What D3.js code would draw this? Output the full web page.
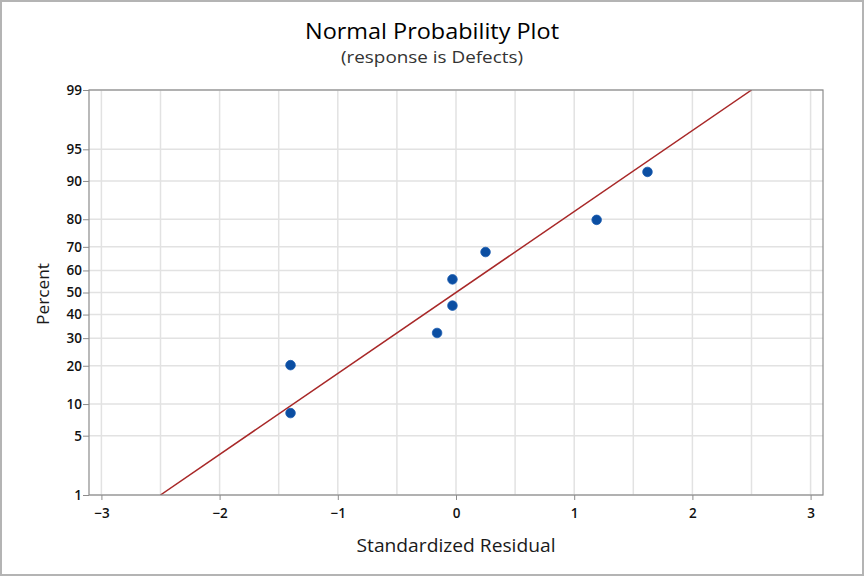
<!DOCTYPE html>
<html>
<head>
<meta charset="utf-8">
<script src="https://cdn.jsdelivr.net/npm/d3@7"></script>
<style>
    body { margin: 0; background: #fff; }
    svg { display: block; font-family: "Open Sans", "Noto Sans", sans-serif; }
</style>
</head>
<body>
<svg id="chart" width="864" height="576"></svg>
<script>
// residuals (sorted) and their plotting percents
const residuals = [-1.40, -1.40, -0.16, -0.03, -0.03, 0.25, 1.19, 1.62];
const percents = [8.3, 20.2, 32.1, 44.0, 56.0, 67.9, 79.8, 91.7];

// fitted normal line
const lineMean = 0;
const lineSigma = 1.075;

const percentTicks = [1, 5, 10, 20, 30, 40, 50, 60, 70, 80, 90, 95, 99];
const xTicks = [-3, -2, -1, 0, 1, 2, 3];
const xGrid = [-3, -2.5, -2, -1.5, -1, -0.5, 0, 0.5, 1, 1.5, 2, 2.5, 3];

// inverse normal cdf (Acklam)
function probit(p) {
    const a = [-3.969683028665376e+01, 2.209460984245205e+02, -2.759285104469687e+02,
        1.383577518672690e+02, -3.066479806614716e+01, 2.506628277459239e+00];
    const b = [-5.447609879822406e+01, 1.615858368580409e+02, -1.556989798598866e+02,
        6.680131188771972e+01, -1.328068155288572e+01];
    const c = [-7.784894002430293e-03, -3.223964580411365e-01, -2.400758277161838e+00,
        -2.549732539343734e+00, 4.374664141464968e+00, 2.938163982698783e+00];
    const d = [7.784695709041462e-03, 3.224671290700398e-01, 2.445134137142996e+00,
        3.754408661907416e+00];
    const pl = 0.02425;
    let q, r;
    if (p < pl) {
        q = Math.sqrt(-2 * Math.log(p));
        return (((((c[0] * q + c[1]) * q + c[2]) * q + c[3]) * q + c[4]) * q + c[5]) /
            ((((d[0] * q + d[1]) * q + d[2]) * q + d[3]) * q + 1);
    }
    if (p > 1 - pl) {
        q = Math.sqrt(-2 * Math.log(1 - p));
        return -(((((c[0] * q + c[1]) * q + c[2]) * q + c[3]) * q + c[4]) * q + c[5]) /
            ((((d[0] * q + d[1]) * q + d[2]) * q + d[3]) * q + 1);
    }
    q = p - 0.5;
    r = q * q;
    return (((((a[0] * r + a[1]) * r + a[2]) * r + a[3]) * r + a[4]) * r + a[5]) * q /
        (((((b[0] * r + b[1]) * r + b[2]) * r + b[3]) * r + b[4]) * r + 1);
}

const plotLeft = 89, plotRight = 823, plotTop = 90, plotBottom = 495;

const svg = d3.select('#chart');

// outer frame
svg.append('rect')
    .attr('x', 1).attr('y', 1)
    .attr('width', 862).attr('height', 574)
    .attr('fill', 'none')
    .attr('stroke', '#b4b4b4')
    .attr('stroke-width', 2);

const xScale = d3.scaleLinear()
    .domain([-3.105, 3.105])
    .range([plotLeft, plotRight]);

const zScale = d3.scaleLinear()
    .domain([probit(0.01), probit(0.99)])
    .range([plotBottom, plotTop]);
const yScale = p => zScale(probit(p / 100));

// grid
svg.append('g')
    .selectAll('line')
    .data(xGrid)
    .join('line')
    .attr('x1', d => xScale(d)).attr('x2', d => xScale(d))
    .attr('y1', plotTop).attr('y2', plotBottom)
    .attr('stroke', '#e2e2e2')
    .attr('stroke-width', 1.5);

svg.append('g')
    .selectAll('line')
    .data(percentTicks)
    .join('line')
    .attr('x1', plotLeft).attr('x2', plotRight)
    .attr('y1', d => yScale(d)).attr('y2', d => yScale(d))
    .attr('stroke', '#e2e2e2')
    .attr('stroke-width', 1.5);

// fitted line
const clipId = 'plot-clip';
svg.append('clipPath').attr('id', clipId)
    .append('rect')
    .attr('x', plotLeft).attr('y', plotTop)
    .attr('width', plotRight - plotLeft).attr('height', plotBottom - plotTop);

const lineGen = d3.line()
    .x(d => xScale(lineMean + lineSigma * probit(d / 100)))
    .y(d => yScale(d));

svg.append('path')
    .attr('clip-path', `url(#${clipId})`)
    .attr('d', lineGen([1, 99]))
    .attr('fill', 'none')
    .attr('stroke', '#a82828')
    .attr('stroke-width', 1.5);

// points
svg.append('g')
    .selectAll('circle')
    .data(residuals)
    .join('circle')
    .attr('cx', d => xScale(d))
    .attr('cy', (d, i) => yScale(percents[i]))
    .attr('r', 4.8)
    .attr('fill', '#0b4ea2')
    .attr('stroke', '#1a5cb0')
    .attr('stroke-width', 0.8);

// plot frame
svg.append('rect')
    .attr('x', plotLeft).attr('y', plotTop)
    .attr('width', plotRight - plotLeft).attr('height', plotBottom - plotTop)
    .attr('fill', 'none')
    .attr('stroke', '#8c8c8c')
    .attr('stroke-width', 1.2);

// axes
const xAxis = svg.append('g')
    .attr('transform', `translate(0,${plotBottom})`)
    .call(d3.axisBottom(xScale).tickValues(xTicks).tickSize(5).tickPadding(8)
        .tickFormat(d3.format('d')));
const yAxis = svg.append('g')
    .attr('transform', `translate(${plotLeft},0)`)
    .call(d3.axisLeft(zScale).tickValues(percentTicks.map(p => probit(p / 100)))
        .tickSize(6).tickPadding(1)
        .tickFormat((d, i) => percentTicks[i]));

[xAxis, yAxis].forEach(ax => {
    ax.select('.domain').remove();
    ax.selectAll('.tick line').attr('stroke', '#8c8c8c');
    ax.selectAll('.tick text')
        .attr('fill', '#111')
        .style('font-size', '13.5px')
        .style('font-weight', 600)
        .style('font-family', '"Open Sans", "Noto Sans", sans-serif');
});

// titles
svg.append('text')
    .attr('x', 432).attr('y', 39)
    .attr('text-anchor', 'middle')
    .attr('textLength', 254)
    .attr('lengthAdjust', 'spacingAndGlyphs')
    .style('font-size', '21px')
    .style('font-weight', 500)
    .attr('fill', '#000')
    .text('Normal Probability Plot');

svg.append('text')
    .attr('x', 432).attr('y', 63)
    .attr('text-anchor', 'middle')
    .attr('textLength', 182)
    .attr('lengthAdjust', 'spacingAndGlyphs')
    .style('font-size', '16.5px')
    .attr('fill', '#333')
    .text('(response is Defects)');

svg.append('text')
    .attr('x', 456).attr('y', 552)
    .attr('text-anchor', 'middle')
    .attr('textLength', 199)
    .attr('lengthAdjust', 'spacingAndGlyphs')
    .style('font-size', '18px')
    .style('font-weight', 500)
    .attr('fill', '#1a1a1a')
    .text('Standardized Residual');

svg.append('text')
    .attr('transform', 'translate(49,294) rotate(-90)')
    .attr('text-anchor', 'middle')
    .attr('textLength', 62)
    .attr('lengthAdjust', 'spacingAndGlyphs')
    .style('font-size', '17px')
    .style('font-weight', 500)
    .attr('fill', '#1a1a1a')
    .text('Percent');
</script>
</body>
</html>
